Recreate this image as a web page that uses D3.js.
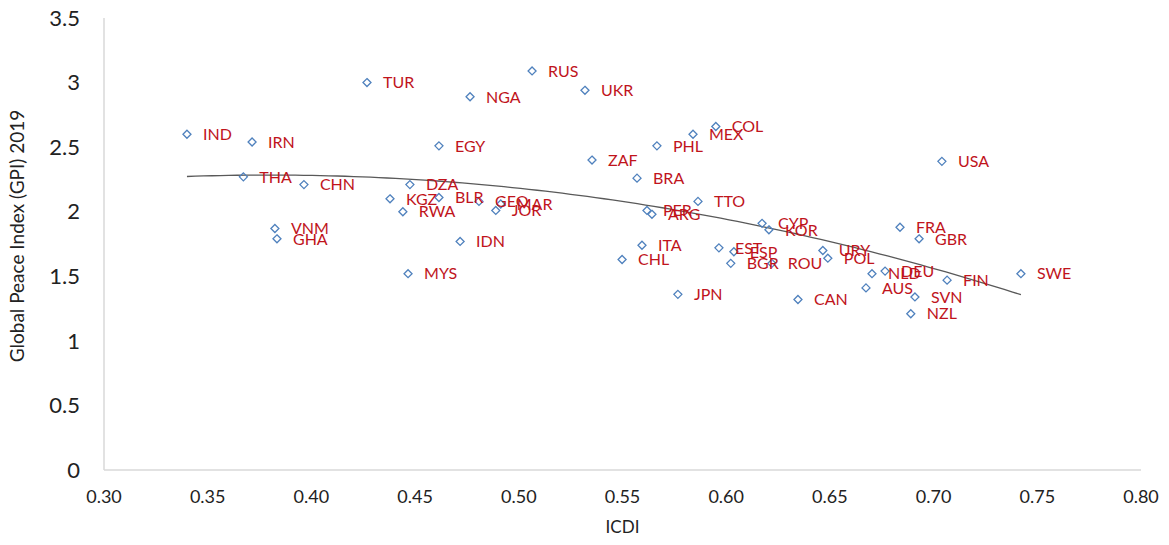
<!DOCTYPE html>
<html><head><meta charset="utf-8">
<script src="https://cdn.jsdelivr.net/npm/d3@7"></script>
<style>body{margin:0;background:#fff}svg{display:block}</style>
</head><body><svg id="c" width="1169" height="545"></svg>
<script>
const countries = ["IND","IRN","THA","CHN","VNM","GHA","TUR","NGA","EGY","DZA","KGZ","BLR","RWA","IDN","MYS","GEO","MAR","JOR","RUS","UKR","ZAF","BRA","PHL","MEX","COL","TTO","PER","ARG","ITA","CHL","JPN","EST","ESP","BGR","ROU","CYP","KOR","CAN","URY","POL","AUS","NLD","DEU","FRA","GBR","USA","FIN","SVN","NZL","SWE"];
const icdi = [0.340,0.3714,0.3672,0.3964,0.3824,0.3834,0.4268,0.4765,0.4615,0.4475,0.4379,0.4615,0.4441,0.4717,0.4466,0.4808,0.4913,0.4889,0.5064,0.5319,0.5353,0.5570,0.5666,0.5840,0.5950,0.5864,0.5618,0.5642,0.5594,0.5498,0.5767,0.5965,0.6037,0.6022,0.6220,0.6173,0.6206,0.6346,0.6466,0.6490,0.6674,0.6703,0.6766,0.6838,0.6930,0.7040,0.7065,0.6910,0.6890,0.7421];
const gpi = [2.60,2.54,2.27,2.21,1.87,1.79,3.00,2.89,2.51,2.21,2.10,2.11,2.00,1.77,1.52,2.08,2.06,2.01,3.09,2.94,2.40,2.26,2.51,2.60,2.66,2.08,2.01,1.98,1.74,1.63,1.36,1.72,1.69,1.60,1.60,1.91,1.86,1.32,1.70,1.64,1.41,1.52,1.54,1.88,1.79,2.39,1.47,1.34,1.21,1.52];
const xTicks = [0.30,0.35,0.40,0.45,0.50,0.55,0.60,0.65,0.70,0.75,0.80];
const yTicks = [0,0.5,1,1.5,2,2.5,3,3.5];

const svg = d3.select("#c");
const x = d3.scaleLinear().domain([0.30,0.80]).range([104,1141]);
const y = d3.scaleLinear().domain([0,3.5]).range([470,18]);
const font = "Lato, 'Open Sans', sans-serif";

// axes lines
svg.append("line").attr("x1",x(0.30)).attr("x2",x(0.30)).attr("y1",y(3.5)).attr("y2",y(0)).attr("stroke","#d9d9d9").attr("stroke-width",1.5);
svg.append("line").attr("x1",x(0.30)).attr("x2",x(0.80)).attr("y1",y(0)).attr("y2",y(0)).attr("stroke","#d9d9d9").attr("stroke-width",1.5);

// y tick labels
svg.selectAll("text.yt").data(yTicks).enter().append("text").attr("class","yt")
  .attr("x",80).attr("y",d=>y(d)).attr("dy","0.35em").attr("text-anchor","end")
  .attr("font-family",font).attr("font-size",22).attr("fill","#222").text(d=>d);
// x tick labels
svg.selectAll("text.xt").data(xTicks).enter().append("text").attr("class","xt")
  .attr("x",d=>x(d)).attr("y",503).attr("text-anchor","middle")
  .attr("font-family",font).attr("font-size",18).attr("fill","#222").text(d=>d3.format(".2f")(d));
// axis titles
svg.append("text").attr("x",(x(0.30)+x(0.80))/2).attr("y",533).attr("text-anchor","middle")
  .attr("font-family",font).attr("font-size",17).attr("fill","#222").text("ICDI");
svg.append("text").attr("transform","translate(24,236) rotate(-90)").attr("text-anchor","middle")
  .attr("font-family",font).attr("font-size",19).attr("fill","#222").text("Global Peace Index (GPI) 2019");

// quadratic trendline (least squares)
const n = icdi.length;
let S = Array(5).fill(0), T = Array(3).fill(0);
for (let i=0;i<n;i++){ for(let k=0;k<5;k++) S[k]+=Math.pow(icdi[i],k); for(let k=0;k<3;k++) T[k]+=gpi[i]*Math.pow(icdi[i],k); }
const M = [[S[0],S[1],S[2],T[0]],[S[1],S[2],S[3],T[1]],[S[2],S[3],S[4],T[2]]];
for (let c=0;c<3;c++){ for(let r=c+1;r<3;r++){ const f=M[r][c]/M[c][c]; for(let k=c;k<4;k++) M[r][k]-=f*M[c][k]; } }
const coef=[0,0,0];
for (let r=2;r>=0;r--){ let s=M[r][3]; for(let k=r+1;k<3;k++) s-=M[r][k]*coef[k]; coef[r]=s/M[r][r]; }
const xmin=d3.min(icdi), xmax=d3.max(icdi);
const tx=d3.range(0,101).map(i=>xmin+(xmax-xmin)*i/100);
svg.append("path").datum(tx).attr("fill","none").attr("stroke","#595959").attr("stroke-width",1.3)
  .attr("d",d3.line().x(d=>x(d)).y(d=>y(coef[0]+coef[1]*d+coef[2]*d*d)));

// points
const data = countries.map((c,i)=>({c,x:icdi[i],y:gpi[i]}));
svg.selectAll("path.pt").data(data).enter().append("path").attr("class","pt")
  .attr("d","M0,-4L4,0L0,4L-4,0Z").attr("transform",d=>`translate(${x(d.x)},${y(d.y)})`)
  .attr("fill","none").attr("stroke","#4f81bd").attr("stroke-width",1.3);
svg.selectAll("text.lb").data(data).enter().append("text").attr("class","lb")
  .attr("x",d=>x(d.x)+16).attr("y",d=>y(d.y)).attr("dy","0.36em")
  .attr("font-family",font).attr("font-size",16).attr("fill","#c0141c").text(d=>d.c);
</script></body></html>
